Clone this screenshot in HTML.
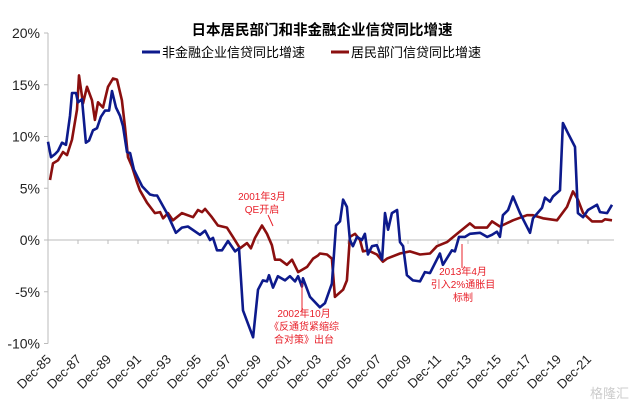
<!DOCTYPE html>
<html><head><meta charset="utf-8"><style>
body{margin:0;background:#fff;}
svg{display:block;font-family:"Liberation Sans","Noto Sans CJK SC",sans-serif;}
</style></head><body>
<svg id="chart" width="629" height="406" viewBox="0 0 629 406" xmlns="http://www.w3.org/2000/svg">
<text x="322" y="35" text-anchor="middle" font-size="14.5" font-weight="bold" fill="#000">日本居民部门和非金融企业信贷同比增速</text>
<g>
<g><line x1="142" y1="52" x2="160" y2="52" stroke="#0d1a8c" stroke-width="3"/><text x="162" y="57" font-size="13" fill="#000">非金融企业信贷同比增速</text></g>
<g><line x1="331" y1="52" x2="349" y2="52" stroke="#8b0f0f" stroke-width="3"/><text x="351" y="57" font-size="13" fill="#000">居民部门信贷同比增速</text></g>
</g>
<g id="axes"></g>
<g id="series"></g>
<g fill="#e8202a" font-size="10" text-anchor="middle">
<text x="262" y="200">2001年3月</text><text x="262" y="213">QE开启</text>
<line x1="268" y1="215" x2="273" y2="226" stroke="#e8202a" stroke-width="1"/>
<line x1="302" y1="312" x2="302" y2="283" stroke="#e8202a" stroke-width="1"/>
<text x="304" y="317">2002年10月</text><text x="304" y="330">《反通货紧缩综</text><text x="304" y="343">合对策》出台</text>
<line x1="462" y1="268" x2="462" y2="244" stroke="#e8202a" stroke-width="1"/>
<text x="463" y="275">2013年4月</text><text x="463" y="288">引入2%通胀目</text><text x="463" y="301">标制</text>
</g>
<text x="590" y="398" font-size="13" fill="#ccc">格隆汇</text>
</svg>
<script>
const yTicks=[20,15,10,5,0,-5,-10];
const xLabels=["Dec-85","Dec-87","Dec-89","Dec-91","Dec-93","Dec-95","Dec-97","Dec-99","Dec-01","Dec-03","Dec-05","Dec-07","Dec-09","Dec-11","Dec-13","Dec-15","Dec-17","Dec-19","Dec-21"];
const corpYears=[0,.2,.47,.67,.93,1.2,1.47,1.6,1.87,2.0,2.27,2.53,2.73,3.0,3.27,3.53,3.8,4.07,4.27,4.53,4.8,5.0,5.27,5.47,5.73,6.0,6.27,6.53,6.8,7.07,7.27,7.93,8.53,8.93,9.33,10.13,10.47,10.8,11.0,11.27,11.6,12.0,12.47,12.73,13.0,13.67,14.0,14.33,14.6,14.73,15.0,15.33,15.8,16.13,16.47,16.67,16.93,17.0,17.47,18.13,18.47,18.93,19.2,19.47,19.67,19.93,20.13,20.33,20.6,20.93,21.13,21.33,21.6,21.93,22.27,22.47,22.67,22.93,23.27,23.47,23.67,23.93,24.33,24.8,25.13,25.47,26.13,26.33,26.93,27.13,27.4,27.8,28.13,28.8,29.27,29.6,29.93,30.13,30.33,30.67,31.0,31.47,32.13,32.33,32.93,33.13,33.47,33.67,34.13,34.33,34.67,35.13,35.33,35.67,36.0,36.6,36.8,37.27,37.6];
const corpValues=[9.5,8.0,8.3,8.6,9.4,9.2,12,14.2,14.2,13.3,13.6,9.4,9.6,10.6,10.8,11.9,12.5,12.5,14.4,12.8,12.0,11.0,8.5,8.4,6.8,6.0,5.2,4.8,4.4,4.3,4.3,2.6,0.7,1.2,1.3,0.5,0.9,0,0.2,-1.0,-1.0,-0.1,-1.1,-0.8,-6.8,-9.4,-4.8,-3.9,-4.0,-3.4,-4.6,-3.5,-3.9,-3.5,-4.0,-3.5,-4.5,-3.7,-5.5,-6.5,-6.1,-4.2,1.4,1.8,3.9,3.2,0,-0.6,0.3,0,0.6,-1.4,-0.6,-0.5,-1.9,2.6,1.0,2.6,2.9,-0.2,-0.6,-3.4,-3.9,-4.0,-3.1,-3.2,-1.3,-2.4,-1.0,-1.1,0.3,0.3,0.6,0.7,0.3,0.5,0.8,0.3,2.4,2.9,4.2,2.6,0.7,2.1,3.1,4.1,3.7,4.2,4.8,11.3,10.3,9.0,2.6,2.2,2.9,3.4,2.7,2.6,3.4];
const hhYears=[.13,.33,.67,1.0,1.27,1.6,1.93,2.07,2.33,2.6,2.93,3.13,3.33,3.67,4.0,4.33,4.6,4.93,5.13,5.33,5.6,5.93,6.13,6.6,7.13,7.47,7.67,8.0,8.33,8.93,9.67,10.0,10.27,10.47,10.93,11.33,11.93,12.33,12.8,13.27,13.53,13.8,14.27,14.6,14.93,15.13,15.47,15.93,16.27,16.67,17.27,17.67,18.0,18.13,18.6,18.93,19.13,19.67,19.93,20.13,20.47,20.8,21.0,21.33,21.93,22.33,22.6,23.47,24.13,24.8,25.47,25.93,26.6,27.27,28.13,28.47,29.27,29.6,30.13,31.0,31.93,32.33,33.0,33.93,34.6,35.0,35.33,35.67,36.27,36.93,37.13,37.6];
const hhValues=[5.8,7.4,7.7,8.5,8.2,9.7,12.6,15.9,13.2,14.8,13.5,11.6,13.3,12.8,14.8,15.6,15.5,13.5,10.9,8.0,7.1,5.6,4.8,3.6,2.6,2.7,2.1,2.6,1.9,2.6,2.2,2.9,2.7,3.0,2.2,1.4,1.2,0.3,-0.8,-0.3,-0.8,0.2,1.4,0.6,-0.5,-1.9,-1.9,-2.4,-1.9,-3.1,-2.6,-1.8,-1.5,-1.3,-1.4,-1.8,-5.5,-4.8,-3.9,0.3,0.6,0.0,-1.1,-1.0,-1.4,-2.1,-1.8,-1.3,-1.1,-1.4,-1.3,-0.6,-0.2,0.6,1.6,1.2,1.2,1.8,1.3,1.9,2.4,2.4,2.1,1.9,3.2,4.7,3.9,2.6,1.8,1.8,2.0,1.9];
const NS="http://www.w3.org/2000/svg";
const X0=48,PXY=15,Y0=240,PXV=10.35;
function xs(t){return X0+t*PXY;}
function ys(v){return Y0-v*PXV;}
function mk(tag,attrs,parent){const e=document.createElementNS(NS,tag);for(const k in attrs)e.setAttribute(k,attrs[k]);parent.appendChild(e);return e;}
const ax=document.getElementById('axes');
const yAxis=mk('line',{x1:X0,y1:ys(20),x2:X0,y2:ys(-10),stroke:'#bbb','stroke-width':1},ax);


const xAxis=mk('line',{x1:X0,y1:ys(0),x2:614,y2:ys(0),stroke:'#bbb','stroke-width':1},ax);


yTicks.forEach(v=>{
 mk('line',{x1:X0-4,y1:ys(v),x2:X0,y2:ys(v),stroke:'#bbb'},ax);
 const t=mk('text',{x:X0-8,y:ys(v)+5,'text-anchor':'end','font-size':14,fill:'#222'},ax);
 t.textContent=v+'%';
 
 
});
xLabels.forEach((l,i)=>{
 const x=xs(i*2);
 mk('line',{x1:x,y1:ys(0),x2:x,y2:ys(0)+4,stroke:'#bbb'},ax);
 const t=mk('text',{x:x+4,y:360,'text-anchor':'end','font-size':13,fill:'#222',transform:`rotate(-45 ${x+4} 360)`},ax);
 t.textContent=l;
 
 
});
const sg=document.getElementById('series');
function line(years,vals,color,name){
 const n=Math.min(years.length,vals.length);
 let d='';
 for(let i=0;i<n;i++)d+=(i?'L':'M')+xs(years[i]).toFixed(1)+','+ys(vals[i]).toFixed(1);
 const p=mk('path',{d:d,fill:'none',stroke:color,'stroke-width':2.6,'stroke-linejoin':'round'},sg);
 
 
}
line(hhYears,hhValues,'#8b0f0f','household-credit-line');
line(corpYears,corpValues,'#0d1a8c','corporate-credit-line');
</script>
</body></html>
